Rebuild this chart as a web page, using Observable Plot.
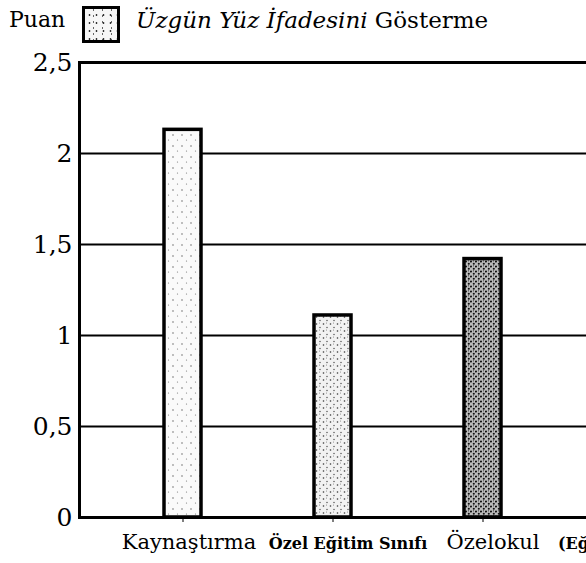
<!DOCTYPE html>
<html>
<head>
<meta charset="utf-8">
<script src="https://cdn.jsdelivr.net/npm/d3@7"></script>
<script src="https://cdn.jsdelivr.net/npm/@observablehq/plot@0.6"></script>
<style>
  html, body { margin: 0; padding: 0; background: #fff; overflow: hidden; }
  #header { position: absolute; left: 0; top: 0; width: 586px; height: 50px; z-index: 2; }
  #puan { position: absolute; left: 9px; top: 7px; font-family: "DejaVu Serif", serif; font-size: 22px; color: #000; }
  #box { position: absolute; left: 82px; top: 6px; width: 32px; height: 31px; border: 3px solid #000;
         background-color: #f6f6f6;
         background-image: radial-gradient(circle, #333 0.8px, transparent 1.2px), radial-gradient(circle, #666 0.7px, transparent 1.1px);
         background-size: 7px 8px, 9px 6px; background-position: 1px 2px, 4px 4px; }
  #lbl { position: absolute; left: 136px; top: 7px; font-family: "DejaVu Serif", serif; font-size: 23px; color: #000; white-space: nowrap; }
  #lbl i { font-style: italic; }
</style>
</head>
<body>
<div id="header">
  <span id="puan">Puan</span>
  <div id="box"></div>
  <span id="lbl"><i>Üzgün Yüz İfadesini</i> Gösterme</span>
</div>
<div id="chart"></div>
<script>
const categories = ["Kaynaştırma", "Özel Eğitim Sınıfı", "Özelokul"];
const values = [2.13, 1.11, 1.42];
const yTicks = [0, 0.5, 1, 1.5, 2, 2.5];
const extraLabel = ["(Eğitilebilir)"];

const data = categories.map((c, i) => ({cat: c, value: values[i]}));
const patternIds = ["stip1", "stip2", "stip3"];

const serif = "DejaVu Serif, serif";
const plot = Plot.plot({
  width: 586,
  height: 563,
  marginTop: 62,
  marginBottom: 46,
  marginLeft: 79,
  marginRight: -4,
  style: {fontFamily: serif, fontSize: "25px", color: "#000", background: "#fff", overflow: "hidden"},
  x: {domain: categories, range: [79, 585], paddingInner: 0.755, paddingOuter: 0.553, tickSize: 5, tickFormat: () => "", label: null},
  y: {domain: [0, 2.5], ticks: yTicks, tickFormat: d => String(d).replace(".", ","), tickSize: 0, tickPadding: 7, label: null},
  marks: [
    Plot.ruleY(yTicks.filter(d => d > 0), {stroke: "#000", strokeWidth: 2}),
    Plot.frame({stroke: "#000", strokeWidth: 3}),
    Plot.barY(data, {x: "cat", y: "value", fill: "#eee", stroke: "#000", strokeWidth: 3.5, className: "bars"}),
    Plot.text(categories.filter((d, i) => i === 0), {x: d => d, frameAnchor: "bottom", dy: 31, dx: 6, fontSize: 21, fontFamily: serif}),
    Plot.text(categories.filter((d, i) => i === 1), {x: d => d, frameAnchor: "bottom", dy: 31, dx: 15, fontSize: 16, fontWeight: "bold", fontFamily: serif}),
    Plot.text(categories.filter((d, i) => i === 2), {x: d => d, frameAnchor: "bottom", dy: 31, dx: 10, fontSize: 21, fontFamily: serif}),
    Plot.text(extraLabel, {x: () => categories[2], frameAnchor: "bottom", dy: 31, dx: 75, textAnchor: "start", fontSize: 16, fontWeight: "bold", fontFamily: serif})
  ]
});

const defs = `<defs>
<pattern id="stip1" width="9" height="11" patternUnits="userSpaceOnUse">
  <rect width="9" height="11" fill="#fafafa"/>
  <circle cx="2" cy="3" r="0.7" fill="#555"/><circle cx="6.5" cy="8" r="0.6" fill="#777"/>
</pattern>
<pattern id="stip2" width="7" height="7" patternUnits="userSpaceOnUse">
  <rect width="7" height="7" fill="#f2f2f2"/>
  <circle cx="1.5" cy="2" r="0.8" fill="#333"/><circle cx="5" cy="5.5" r="0.7" fill="#444"/><circle cx="4.5" cy="1" r="0.5" fill="#777"/>
</pattern>
<pattern id="stip3" width="5" height="5" patternUnits="userSpaceOnUse">
  <rect width="5" height="5" fill="#bdbdbd"/>
  <circle cx="1" cy="1.5" r="1.05" fill="#111"/><circle cx="3.8" cy="3.8" r="1.05" fill="#111"/><circle cx="3.5" cy="0.8" r="0.6" fill="#333"/>
</pattern>
</defs>`;
plot.insertAdjacentHTML("afterbegin", defs);
plot.querySelectorAll(".bars rect").forEach((r, i) => r.setAttribute("fill", `url(#${patternIds[i]})`));
document.getElementById("chart").appendChild(plot);
</script>
</body>
</html>
